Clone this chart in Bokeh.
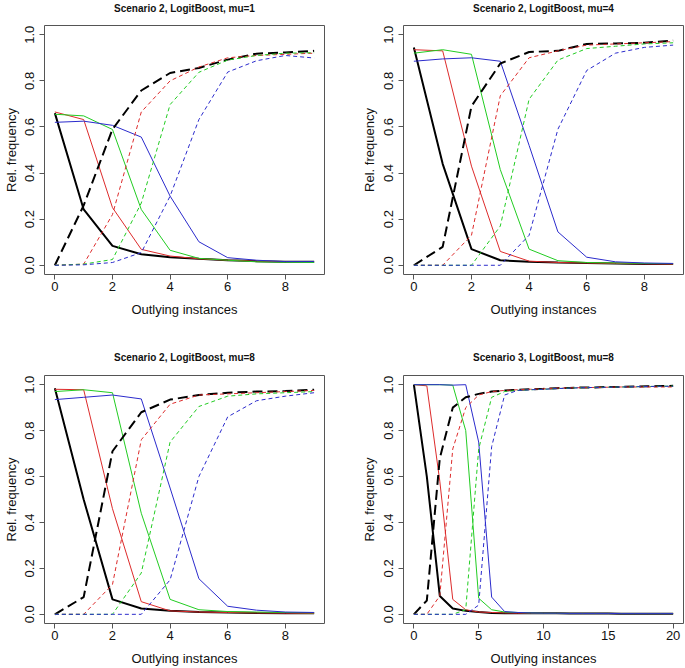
from bokeh.plotting import figure
from bokeh.layouts import column, row
from bokeh.models import Range1d, FixedTicker, NumeralTickFormatter
from bokeh.embed import file_html
from bokeh.resources import INLINE

# ---------------- data ----------------
titles = ["Scenario 2, LogitBoost, mu=1", "Scenario 2, LogitBoost, mu=4",
          "Scenario 2, LogitBoost, mu=8", "Scenario 3, LogitBoost, mu=8"]
x_label = "Outlying instances"
y_label = "Rel. frequency"

x_s2 = [0, 1, 2, 3, 4, 5, 6, 7, 8, 9]
x_s3 = list(range(0, 21))
xticks_s2 = [0, 2, 4, 6, 8]
xticks_s3 = [0, 5, 10, 15, 20]
yticks = [0.0, 0.2, 0.4, 0.6, 0.8, 1.0]

# Panel 1: Scenario 2, mu=1
p1_black = [0.66, 0.242, 0.084, 0.048, 0.035, 0.028, 0.022, 0.018, 0.015, 0.015]
p1_red = [0.665, 0.632, 0.25, 0.069, 0.04, 0.028, 0.022, 0.018, 0.015, 0.013]
p1_green = [0.655, 0.648, 0.589, 0.242, 0.065, 0.03, 0.022, 0.015, 0.013, 0.012]
p1_blue = [0.62, 0.625, 0.607, 0.556, 0.30, 0.102, 0.033, 0.022, 0.016, 0.016]
p1_black_d = [0.0, 0.26, 0.59, 0.758, 0.834, 0.856, 0.892, 0.918, 0.923, 0.93]
p1_red_d = [0.0, 0.005, 0.22, 0.665, 0.80, 0.86, 0.90, 0.91, 0.915, 0.92]
p1_green_d = [0.0, 0.005, 0.025, 0.27, 0.697, 0.837, 0.89, 0.91, 0.92, 0.922]
p1_blue_d = [0.0, 0.002, 0.012, 0.055, 0.30, 0.632, 0.838, 0.887, 0.91, 0.899]

# Panel 2: Scenario 2, mu=4
p2_black = [0.945, 0.44, 0.07, 0.022, 0.015, 0.012, 0.01, 0.008, 0.006, 0.005]
p2_red = [0.935, 0.93, 0.43, 0.06, 0.018, 0.012, 0.01, 0.008, 0.006, 0.005]
p2_green = [0.92, 0.935, 0.915, 0.415, 0.07, 0.02, 0.012, 0.01, 0.008, 0.007]
p2_blue = [0.885, 0.895, 0.9, 0.885, 0.52, 0.145, 0.035, 0.015, 0.01, 0.008]
p2_black_d = [0.0, 0.08, 0.69, 0.875, 0.925, 0.93, 0.96, 0.962, 0.965, 0.975]
p2_red_d = [0.0, 0.0, 0.13, 0.735, 0.90, 0.93, 0.955, 0.96, 0.965, 0.97]
p2_green_d = [0.0, 0.0, 0.0, 0.17, 0.72, 0.89, 0.94, 0.95, 0.96, 0.965]
p2_blue_d = [0.0, 0.0, 0.0, 0.0, 0.13, 0.59, 0.845, 0.92, 0.945, 0.955]

# Panel 3: Scenario 2, mu=8
p3_black = [0.985, 0.5, 0.065, 0.025, 0.015, 0.01, 0.008, 0.006, 0.005, 0.005]
p3_red = [0.98, 0.978, 0.46, 0.055, 0.015, 0.01, 0.008, 0.006, 0.005, 0.004]
p3_green = [0.97, 0.978, 0.965, 0.44, 0.065, 0.02, 0.012, 0.01, 0.008, 0.006]
p3_blue = [0.935, 0.945, 0.955, 0.938, 0.55, 0.155, 0.035, 0.018, 0.01, 0.008]
p3_black_d = [0.0, 0.075, 0.71, 0.88, 0.935, 0.955, 0.965, 0.97, 0.972, 0.978]
p3_red_d = [0.0, 0.0, 0.13, 0.76, 0.915, 0.955, 0.96, 0.965, 0.97, 0.975]
p3_green_d = [0.0, 0.0, 0.0, 0.18, 0.75, 0.905, 0.95, 0.96, 0.965, 0.97]
p3_blue_d = [0.0, 0.0, 0.0, 0.0, 0.15, 0.60, 0.86, 0.93, 0.95, 0.965]

# Panel 4: Scenario 3, mu=8
p4_black = [1.0, 0.6, 0.08, 0.025, 0.015, 0.01, 0.006, 0.005, 0.005, 0.005, 0.005,
            0.005, 0.004, 0.004, 0.004, 0.004, 0.003, 0.003, 0.003, 0.003, 0.003]
p4_red = [1.0, 0.995, 0.58, 0.065, 0.02, 0.01, 0.008, 0.006, 0.005, 0.005, 0.005,
          0.005, 0.004, 0.004, 0.004, 0.004, 0.003, 0.003, 0.003, 0.003, 0.003]
p4_green = [1.0, 1.0, 1.0, 0.998, 0.8, 0.07, 0.02, 0.01, 0.008, 0.006, 0.005,
            0.005, 0.004, 0.004, 0.004, 0.004, 0.003, 0.003, 0.003, 0.003, 0.003]
p4_blue = [1.0, 1.0, 1.0, 0.998, 1.0, 0.75, 0.075, 0.012, 0.008, 0.006, 0.005,
           0.005, 0.004, 0.004, 0.004, 0.004, 0.003, 0.003, 0.003, 0.003, 0.003]
p4_black_d = [0.0, 0.06, 0.68, 0.9, 0.945, 0.96, 0.97, 0.975, 0.978, 0.98, 0.982,
              0.985, 0.986, 0.988, 0.988, 0.99, 0.99, 0.992, 0.993, 0.994, 0.995]
p4_red_d = [0.0, 0.0, 0.08, 0.72, 0.9, 0.955, 0.97, 0.975, 0.978, 0.98, 0.982,
            0.985, 0.986, 0.987, 0.988, 0.989, 0.99, 0.99, 0.99, 0.99, 0.99]
p4_green_d = [0.0, 0.0, 0.0, 0.0, 0.02, 0.72, 0.945, 0.97, 0.975, 0.978, 0.98,
              0.983, 0.985, 0.987, 0.988, 0.989, 0.99, 0.991, 0.992, 0.993, 0.994]
p4_blue_d = [0.0, 0.0, 0.0, 0.0, 0.0, 0.04, 0.73, 0.955, 0.975, 0.978, 0.98,
             0.983, 0.985, 0.987, 0.988, 0.989, 0.99, 0.991, 0.992, 0.993, 0.993]

colors = {"black": "#000000", "red": "#dd2b2b", "green": "#22cc22", "blue": "#2b2bcc"}

FONT = "Liberation Sans"


def make_panel(title, x, solid, dashed, xticks, w, h, left, right, top, bottom,
               title_standoff, title_extra_line, ylab_standoff):
    pad_x = 0.04 * (max(x) - min(x))
    p = figure(width=w, height=h, output_backend="svg",
               toolbar_location=None,
               x_range=Range1d(min(x) - pad_x, max(x) + pad_x),
               y_range=Range1d(-0.04, 1.04),
               min_border_left=left, min_border_right=right,
               min_border_top=top, min_border_bottom=bottom)
    # an empty second line lifts the title up, away from the plot box
    p.title.text = title + ("\n " if title_extra_line else "")
    p.title.align = "center"
    p.title.text_font = FONT
    p.title.text_font_size = "10px"
    p.title.text_font_style = "bold"
    p.title.text_color = "#111111"
    p.title.text_line_height = 1.05
    p.title.standoff = title_standoff
    p.grid.visible = False
    p.outline_line_color = "#555555"
    p.outline_line_width = 1
    p.background_fill_color = "white"
    p.border_fill_color = "white"

    for ax in (p.xaxis[0], p.yaxis[0]):
        ax.axis_line_color = "#555555"
        ax.major_tick_line_color = "#555555"
        ax.minor_tick_line_color = None
        ax.major_tick_in = 0
        ax.major_tick_out = 5
        ax.major_label_text_font = FONT
        ax.major_label_text_font_size = "13px"
        ax.major_label_text_color = "#111111"
        ax.axis_label_text_font = FONT
        ax.axis_label_text_font_size = "13px"
        ax.axis_label_text_font_style = "normal"
        ax.axis_label_text_color = "#111111"

    p.xaxis.ticker = FixedTicker(ticks=xticks)
    p.xaxis.bounds = (xticks[0], xticks[-1])
    p.xaxis.axis_label = x_label
    p.xaxis.major_label_standoff = 2
    p.xaxis.axis_label_standoff = 8

    p.yaxis.ticker = FixedTicker(ticks=yticks)
    p.yaxis.bounds = (yticks[0], yticks[-1])
    p.yaxis.formatter = NumeralTickFormatter(format="0.0")
    p.yaxis.major_label_orientation = "vertical"
    p.yaxis.axis_label = y_label
    p.yaxis.major_label_standoff = 5
    p.yaxis.axis_label_standoff = ylab_standoff

    for name, ys in solid:
        p.line(x, ys, line_color=colors[name],
               line_width=2 if name == "black" else 1)
    for name, ys in dashed:
        if name == "black":
            p.line(x, ys, line_color=colors[name], line_width=2, line_dash="10 5")
        else:
            p.line(x, ys, line_color=colors[name], line_width=1, line_dash="4 3")
    return p


p1 = make_panel(titles[0], x_s2,
                [("black", p1_black), ("red", p1_red), ("green", p1_green), ("blue", p1_blue)],
                [("black", p1_black_d), ("red", p1_red_d), ("green", p1_green_d), ("blue", p1_blue_d)],
                xticks_s2, 342, 334, 44, 18, 24, 60, 0, True, 4)
p2 = make_panel(titles[1], x_s2,
                [("black", p2_black), ("red", p2_red), ("green", p2_green), ("blue", p2_blue)],
                [("black", p2_black_d), ("red", p2_red_d), ("green", p2_green_d), ("blue", p2_blue_d)],
                xticks_s2, 343, 334, 61, 2, 24, 60, 0, True, 5)
p3 = make_panel(titles[2], x_s2,
                [("black", p3_black), ("red", p3_red), ("green", p3_green), ("blue", p3_blue)],
                [("black", p3_black_d), ("red", p3_red_d), ("green", p3_green_d), ("blue", p3_blue_d)],
                xticks_s2, 342, 334, 44, 18, 41, 44, 25, False, 4)
p4 = make_panel(titles[3], x_s3,
                [("black", p4_black), ("red", p4_red), ("green", p4_green), ("blue", p4_blue)],
                [("black", p4_black_d), ("red", p4_red_d), ("green", p4_green_d), ("blue", p4_blue_d)],
                xticks_s3, 343, 334, 61, 2, 41, 44, 25, False, 5)

layout = column(row(p1, p2), row(p3, p4))
open("out.html", "w").write(file_html(layout, INLINE))
